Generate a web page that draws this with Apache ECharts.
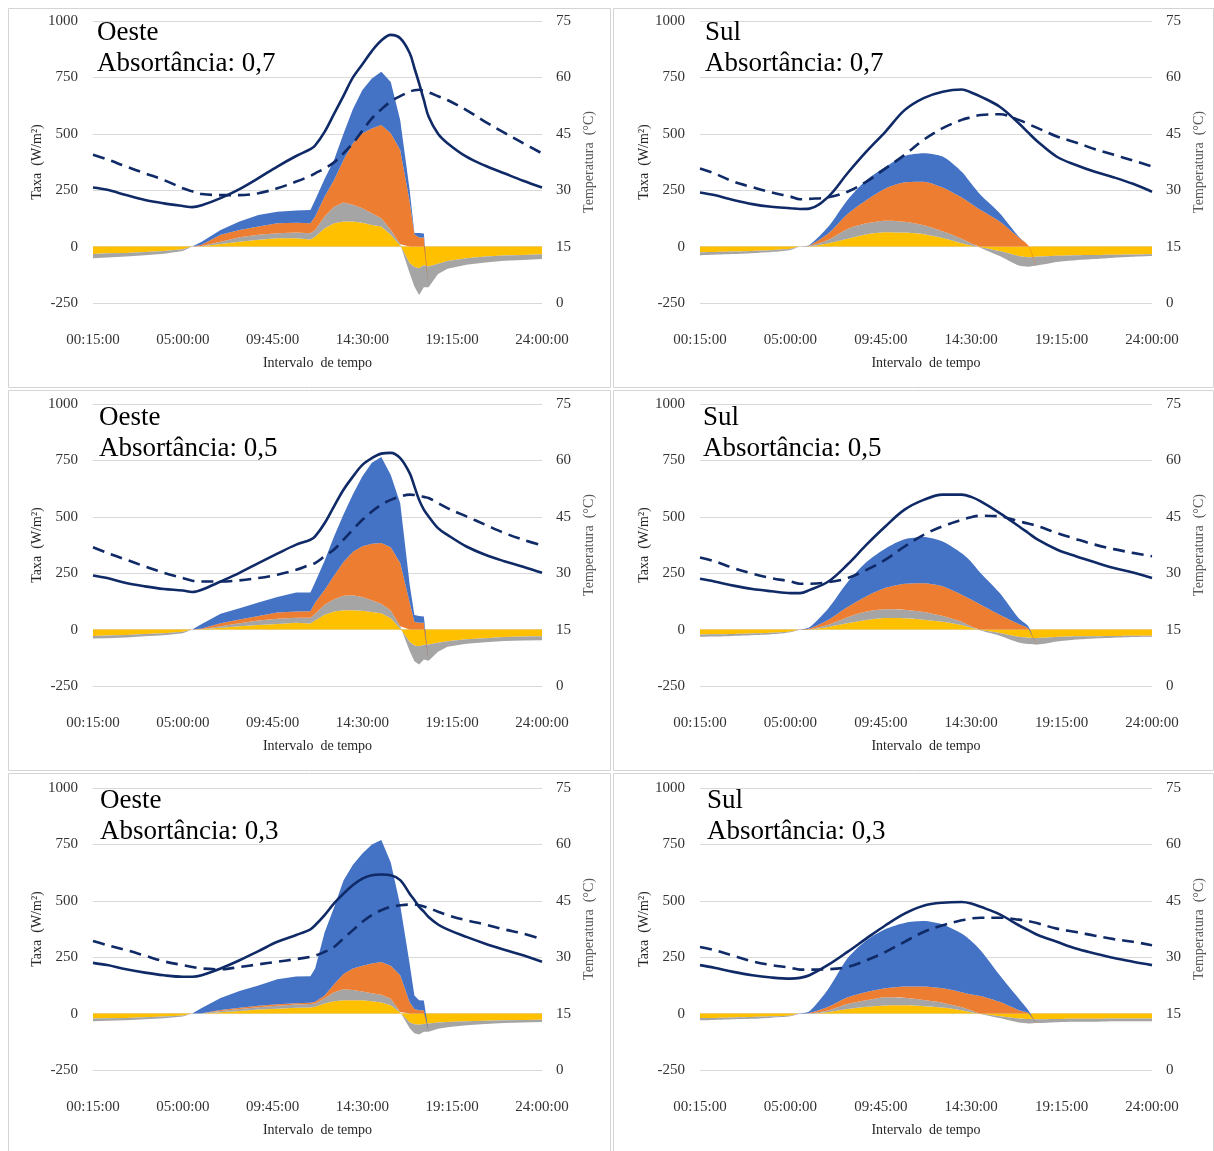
<!DOCTYPE html>
<html><head><meta charset="utf-8">
<script src="https://cdn.jsdelivr.net/npm/echarts@6/dist/echarts.min.js"></script>
<style>html,body{margin:0;padding:0;background:#fff}#c{width:1214px;height:1151px}</style>
</head><body><div id="c"></div><script>
// ---------- DATA ----------
const tickLabels = ['00:15:00','05:00:00','09:45:00','14:30:00','19:15:00','24:00:00'];
const orientations = ['Oeste','Sul','Oeste','Sul','Oeste','Sul'];
const absorbances = ['0,7','0,7','0,5','0,5','0,3','0,3'];

// time of each sample, in hours
const timeOeste = [0.25,1,2,3,4,5,5.5,6,7,8,9,10,11,11.75,12,12.5,13,13.5,14,14.5,15,15.5,16,16.5,17,17.25,17.5,17.75,18,18.5,19,20,21,22,23,24];
const timeSul = [0.25,1,2,3,4,5,5.5,6,7,8,9,10,11,12,13,14,14.5,15,16,17,17.5,18,19,20,21,22,23,24];

// Oeste, absortância 0,7 (W/m²)
const oeste07Amarelo = [-33,-30,-28,-24,-20,-12,0, 2,12,22,30,37,37,32,44,81,103,111,111,106,96,89,52,5, -74,-90,-96,-83,-88,-76,-64,-52,-44,-40,-37,-34];
const oeste07Cinza   = [-19,-18,-16,-14,-12,-8,0, 1,10,19,22,22,25,27,30,52,74,84,74,64,52,37,22,5, -44,-87,-118,-97,-92,-45,-34,-29,-27,-23,-22,-21];
const oeste07Laranja = [0,0,0,0,0,0,0, 5,30,33,37,44,44,44,59,89,118,189,273,332,376,413,428,418, 200,55,40,40, 0,0,0,0,0,0,0,0];
const oeste07Azul    = [0,0,0,0,0,0,0, 14,22,37,51,52,54,59,74,78,89,116,152,192,221,236,228,132, 50,5,20,18, 0,0,0,0,0,0,0,0];
// temperatures (°C)
const oeste07TempCont = [30.7,30.1,28.7,27.4,26.5,25.8,25.5,26.0,27.9,30.3,33.2,36.3,39.1,40.9,41.9,45.5,50.3,55.1,60.0,63.5,67.0,69.8,71.3,70.4,66.5,62.5,58.4,54.0,49.6,45.0,42.5,38.9,36.5,34.5,32.5,30.7];
const oeste07TempTrac = [39.4,38.2,36.3,34.5,32.7,30.5,29.7,29.0,28.7,28.7,29.2,30.5,32.3,33.8,34.5,35.8,37.4,39.8,42.5,45.8,49.1,51.5,53.6,55.0,56.2,56.6,56.7,56.4,56.0,55.0,54.0,51.3,48.2,45.3,42.5,39.8];

// Oeste, absortância 0,5
const oeste05Amarelo = [-28,-26,-24,-20,-16,-10,0, 1,8,15,20,25,30,27,40,66,80,86,86,84,78,72,50,5, -55,-70,-74,-68,-66,-58,-52,-43,-38,-33,-31,-30];
const oeste05Cinza   = [-12,-12,-11,-10,-9,-6,0, 1,7,13,20,23,22,25,30,44,55,64,66,61,52,43,35,10, -40,-70,-81,-65,-72,-40,-24,-20,-18,-18,-17,-17];
const oeste05Laranja = [0,0,0,0,0,0,0, 3,13,17,20,28,28,29,50,65,105,150,193,225,250,269,280,280, 120,35,30,30, 0,0,0,0,0,0,0,0];
const oeste05Azul    = [0,0,0,0,0,0,0, 20,42,50,60,69,85,84,90,130,173,210,255,310,360,381,320,265, 80,30,30,28, 0,0,0,0,0,0,0,0];
const oeste05TempCont = [29.4,28.7,27.4,26.5,25.8,25.4,25.0,25.6,27.8,30.1,32.7,35.2,37.6,38.9,39.8,43.3,47.8,52.2,55.7,58.8,60.6,61.8,62.0,60.6,56.6,53.1,49.5,46.9,45.1,42.0,40.2,37.1,34.9,33.2,31.7,30.1];
const oeste05TempTrac = [36.9,35.4,33.6,31.8,30.1,28.7,28.0,27.8,27.8,28.1,28.7,29.6,30.9,32.3,32.7,34.5,36.3,38.9,41.6,44.2,46.4,48.2,49.5,50.4,50.9,50.8,50.6,50.3,50.0,48.7,47.3,45.1,42.9,40.7,38.9,37.4];

// Oeste, absortância 0,3
const oeste03Amarelo = [-22,-21,-19,-16,-13,-8,0, 0,6,12,18,22,26,27,30,45,55,59,59,59,55,49,37,5, -40,-47,-49,-46,-44,-40,-37,-34,-32,-30,-28,-27];
const oeste03Cinza   = [-12,-11,-10,-9,-8,-5,0, 1,6,8,10,13,14,15,15,23,40,49,46,39,35,35,29,2, -25,-40,-44,-35,-37,-27,-23,-18,-14,-12,-11,-10];
const oeste03Laranja = [0,0,0,0,0,0,0, 1,4,6,7,6,6,6,7,12,35,67,95,114,132,145,146,163, 50,20,15,15, 0,0,0,0,0,0,0,0];
const oeste03Azul    = [0,0,0,0,0,0,0, 23,53,74,90,111,119,118,148,280,340,415,460,498,528,541,458,310, 170,60,44,43, 0,0,0,0,0,0,0,0];
const oeste03TempCont = [28.5,27.9,26.8,25.9,25.2,24.8,24.8,25.2,27.0,29.2,31.6,34.1,35.9,37.4,38.5,41.2,44.3,46.9,49.2,50.9,51.8,52.0,51.8,50.5,46.9,45.2,43.4,42.1,40.7,38.7,37.4,35.4,33.6,32.0,30.5,28.8];
const oeste03TempTrac = [34.3,33.2,31.9,30.4,28.9,27.9,27.4,27.0,26.8,27.4,28.1,28.8,29.5,30.1,30.4,31.4,32.7,35.0,37.2,39.4,41.2,42.5,43.4,43.8,44.0,44.0,43.8,43.5,43.1,42.1,41.2,39.8,38.7,37.4,36.3,34.8];

// Sul, absortância 0,7
const sul07Amarelo = [-25,-24,-22,-19,-16,-10,0, 1,15,35,55,64,62,55,38,15,5, -3,-20,-42,-47,-45,-41,-38,-37,-36,-35,-34];
const sul07Cinza   = [-13,-12,-11,-10,-8,-5,0, 2,15,43,48,51,48,40,30,20,10, -3,-22,-42,-42,-38,-27,-22,-18,-13,-10,-8];
const sul07Laranja = [0,0,0,0,0,0,0, 2,29,67,104,143,175,193,194,183,175, 162,111,40,5,0,0,0,0,0,0,0];
const sul07Azul    = [0,0,0,0,0,0,0, 2,30,62,88,96,117,126,137,114,90, 67,37,4,0,0,0,0,0,0,0,0];
const sul07TempCont = [29.4,28.7,27.4,26.3,25.6,25.2,25.0,25.1,28.3,34.5,40.3,45.6,51.3,54.5,56.2,56.8,56.0,54.9,52.2,47.8,45.3,42.9,38.9,36.7,34.9,33.4,31.7,29.6];
const sul07TempTrac = [35.8,34.5,32.3,30.8,29.4,28.3,27.6,27.7,28.1,29.6,32.3,35.8,39.4,43.4,46.5,48.7,49.4,50.0,50.2,48.7,47.6,46.5,44.3,42.7,40.9,39.4,37.9,36.3];

// Sul, absortância 0,5
const sul05Amarelo = [-22,-21,-19,-17,-14,-8,0, 1,12,28,42,51,50,44,35,20,8, -2,-15,-32,-36,-37,-33,-30,-29,-28,-27,-27];
const sul05Cinza   = [-10,-10,-9,-8,-7,-4,0, 1,10,27,38,39,38,34,25,15,7, -2,-12,-25,-28,-29,-20,-14,-10,-8,-6,-5];
const sul05Laranja = [0,0,0,0,0,0,0, 3,22,45,68,95,115,128,132,120,118, 110,66,25,5,0,0,0,0,0,0,0];
const sul05Azul    = [0,0,0,0,0,0,0, 5,51,110,152,175,197,204,198,183,167, 140,96,25,10,0,0,0,0,0,0,0];
const sul05TempCont = [28.5,27.8,26.7,25.8,25.2,24.7,24.7,25.5,27.8,32.3,37.6,42.5,46.9,49.5,50.9,50.9,50.3,49.1,46.0,42.5,40.7,38.9,36.3,34.5,32.9,31.4,30.2,28.7];
const sul05TempTrac = [34.2,33.2,31.4,29.9,28.7,27.8,27.2,27.2,27.6,28.7,30.9,33.6,37.1,40.2,42.5,44.2,44.9,45.3,45.1,43.8,43.2,42.5,40.7,39.1,37.6,36.4,35.4,34.5];

// Sul, absortância 0,3
const sul03Amarelo = [-20,-19,-17,-15,-12,-8,0, 0,7,20,30,36,37,33,27,15,6, -1,-12,-22,-24,-25,-24,-23,-23,-22,-22,-22];
const sul03Cinza   = [-10,-9,-8,-8,-6,-4,0, 1,8,23,29,36,33,27,21,13,9, -1,-8,-18,-20,-17,-14,-13,-13,-12,-12,-12];
const sul03Laranja = [0,0,0,0,0,0,0, 2,15,29,37,40,50,60,64,67,70, 78,52,15,3,0,0,0,0,0,0,0];
const sul03Azul    = [0,0,0,0,0,0,0, 7,80,173,229,263,282,290,283,260,237, 202,118,52,12,0,0,0,0,0,0,0];
const sul03TempCont = [27.9,27.2,26.1,25.2,24.6,24.3,24.5,25.2,28.0,31.4,35.0,38.5,41.6,43.7,44.5,44.7,44.3,43.4,41.4,38.5,37.2,35.9,34.1,32.3,31.0,29.8,28.8,27.9];
const sul03TempTrac = [32.7,31.9,30.4,28.9,27.9,27.2,26.7,26.7,26.8,27.4,29.2,31.4,34.1,36.7,38.5,39.8,40.3,40.5,40.5,40.0,39.6,39.0,37.6,36.7,35.7,34.8,34.1,33.2];

// ---------- ASSEMBLY ----------
const panelData = [
  {time: timeOeste, a: oeste07Amarelo, g: oeste07Cinza, o: oeste07Laranja, b: oeste07Azul, tc: oeste07TempCont, tt: oeste07TempTrac, smooth: 0},
  {time: timeSul, a: sul07Amarelo, g: sul07Cinza, o: sul07Laranja, b: sul07Azul, tc: sul07TempCont, tt: sul07TempTrac, smooth: 0.25},
  {time: timeOeste, a: oeste05Amarelo, g: oeste05Cinza, o: oeste05Laranja, b: oeste05Azul, tc: oeste05TempCont, tt: oeste05TempTrac, smooth: 0},
  {time: timeSul, a: sul05Amarelo, g: sul05Cinza, o: sul05Laranja, b: sul05Azul, tc: sul05TempCont, tt: sul05TempTrac, smooth: 0.25},
  {time: timeOeste, a: oeste03Amarelo, g: oeste03Cinza, o: oeste03Laranja, b: oeste03Azul, tc: oeste03TempCont, tt: oeste03TempTrac, smooth: 0},
  {time: timeSul, a: sul03Amarelo, g: sul03Cinza, o: sul03Laranja, b: sul03Azul, tc: sul03TempCont, tt: sul03TempTrac, smooth: 0.25}
];

const layout = [
  {left: 93, top: 21, width: 449, tl: 97, tt: 17, box: [8, 8, 602, 379]},
  {left: 700, top: 21, width: 452, tl: 705, tt: 17, box: [613, 8, 600, 379]},
  {left: 93, top: 404, width: 449, tl: 99, tt: 402, box: [8, 390, 602, 380]},
  {left: 700, top: 404, width: 452, tl: 703, tt: 402, box: [613, 390, 600, 380]},
  {left: 93, top: 788, width: 449, tl: 100, tt: 785, box: [8, 773, 602, 380]},
  {left: 700, top: 788, width: 452, tl: 707, tt: 785, box: [613, 773, 600, 380]}
];

const F = "'Liberation Serif','Times New Roman',serif";
const NAVY = '#0F2A66';
const COL = {a: '#FFC000', g: '#A5A5A5', o: '#ED7D31', b: '#4472C4'};

// 15-minute categories 00:15:00 ... 24:00:00
const cats = [];
for (let m = 15; m <= 1440; m += 15) {
  cats.push(String(Math.floor(m / 60)).padStart(2, '0') + ':' + String(m % 60).padStart(2, '0') + ':00');
}
const pts = (times, vals) => times.map((h, i) => [Math.round(h * 4 - 1), vals[i]]);

const grids = [], xAxes = [], yAxes = [], series = [], titles = [], graphics = [];
layout.forEach((l, i) => {
  const p = panelData[i];
  grids.push({left: l.left, top: l.top, width: l.width, height: 282, containLabel: false, outerBoundsMode: 'none'});
  xAxes.push({
    type: 'category', gridIndex: i, data: cats, boundaryGap: false,
    axisLine: {show: false}, axisTick: {show: false}, splitLine: {show: false},
    axisLabel: {interval: 18, margin: 30, fontSize: 15, color: '#333333', fontFamily: F},
    name: 'Intervalo  de tempo', nameLocation: 'middle', nameGap: 53,
    nameTextStyle: {fontSize: 14, color: '#262626', fontFamily: F}
  });
  yAxes.push({
    type: 'value', gridIndex: i, min: -250, max: 1000, interval: 250,
    axisLine: {show: false}, axisTick: {show: false},
    splitLine: {show: true, lineStyle: {color: '#d9d9d9', width: 1}},
    axisLabel: {margin: 15, fontSize: 15, color: '#333333', fontFamily: F, formatter: v => String(v)},
    name: 'Taxa  (W/m²)', nameLocation: 'middle', nameGap: 47, nameRotate: 90,
    nameTextStyle: {fontSize: 14, color: '#262626', fontFamily: F}
  });
  yAxes.push({
    type: 'value', gridIndex: i, position: 'right', min: 0, max: 75, interval: 15,
    axisLine: {show: false}, axisTick: {show: false}, splitLine: {show: false},
    axisLabel: {margin: 14, fontSize: 15, color: '#333333', fontFamily: F, formatter: v => String(v)},
    name: 'Temperatura  (°C)', nameLocation: 'middle', nameGap: 40, nameRotate: 90,
    nameTextStyle: {fontSize: 14, color: '#595959', fontFamily: F}
  });
  [['a', 'Amarelo'], ['g', 'Cinza'], ['o', 'Laranja'], ['b', 'Azul']].forEach(([k, nm]) => {
    series.push({
      type: 'line', name: nm, xAxisIndex: i, yAxisIndex: 2 * i, stack: 'st' + i,
      data: pts(p.time, p[k]), symbol: 'none', showSymbol: false, smooth: p.smooth,
      lineStyle: {width: 0, opacity: 0}, itemStyle: {color: COL[k]},
      areaStyle: {color: COL[k], opacity: 1}, z: 2, silent: true
    });
  });
  series.push({
    type: 'line', name: 'Temperatura (contínua)', xAxisIndex: i, yAxisIndex: 2 * i + 1,
    data: pts(p.time, p.tc), symbol: 'none', smooth: 0.35,
    lineStyle: {color: NAVY, width: 2.6}, itemStyle: {color: NAVY}, z: 4, silent: true
  });
  series.push({
    type: 'line', name: 'Temperatura (tracejada)', xAxisIndex: i, yAxisIndex: 2 * i + 1,
    data: pts(p.time, p.tt), symbol: 'none', smooth: 0.35,
    lineStyle: {color: NAVY, width: 2.6, type: [12, 7]}, itemStyle: {color: NAVY}, z: 4, silent: true
  });
  titles.push({
    text: orientations[i] + '\nAbsortância: ' + absorbances[i], left: l.tl, top: l.tt, padding: 0,
    textStyle: {fontSize: 27, fontWeight: 'normal', fontFamily: F, color: '#000', lineHeight: 31}
  });
  graphics.push({
    type: 'rect', shape: {x: l.box[0] + 0.5, y: l.box[1] + 0.5, width: l.box[2], height: l.box[3]},
    style: {fill: 'none', stroke: '#d4d4d4', lineWidth: 1}, silent: true, z: -1
  });
});

const chart = echarts.init(document.getElementById('c'), null, {renderer: 'canvas', width: 1214, height: 1151});
chart.setOption({
  animation: false,
  backgroundColor: '#ffffff',
  title: titles,
  grid: grids,
  xAxis: xAxes,
  yAxis: yAxes,
  series: series,
  graphic: graphics
});
</script></body></html>
